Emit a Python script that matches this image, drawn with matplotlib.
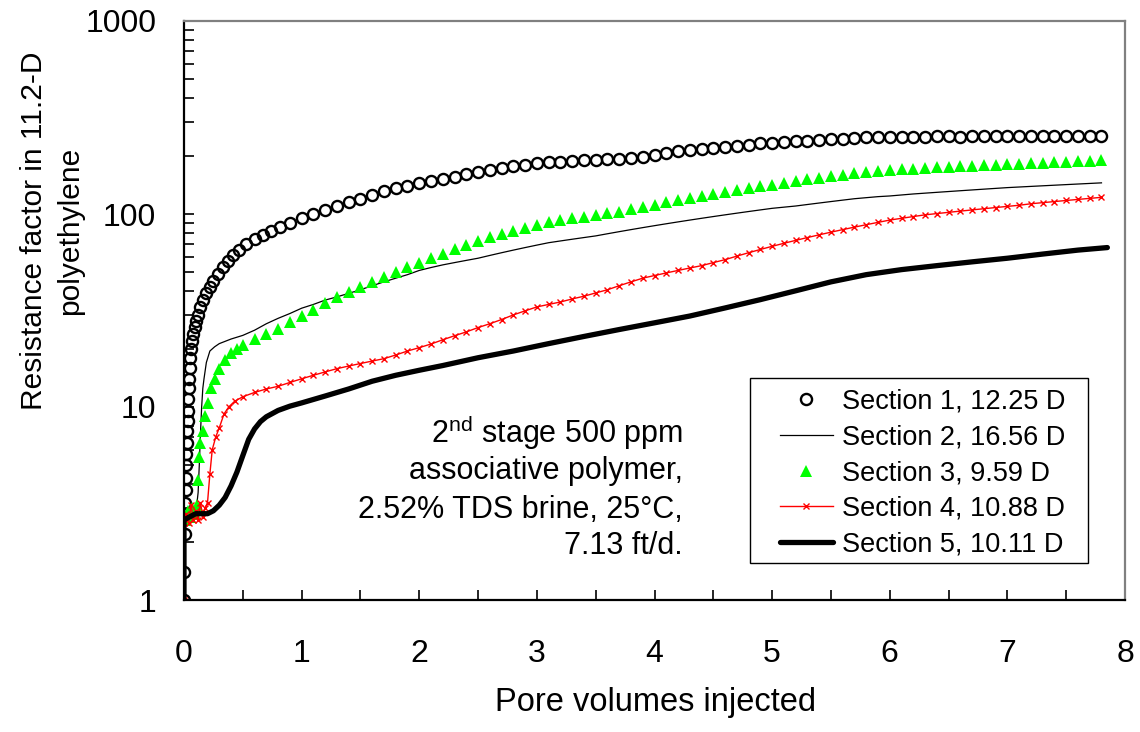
import matplotlib
matplotlib.use("Agg")
import matplotlib.pyplot as plt
from matplotlib.patches import Rectangle
from matplotlib.ticker import FixedLocator, LogLocator, NullFormatter

plt.rcParams['font.family'] = ['Liberation Sans', 'DejaVu Sans']
plt.rcParams['mathtext.fontset'] = 'custom'
plt.rcParams['mathtext.rm'] = 'Liberation Sans'

# ---------------- data ----------------
s1_x = [0, 0, 0.005, 0.01, 0.01, 0.015, 0.015, 0.02, 0.02, 0.025, 0.025, 0.03, 0.03, 0.035, 0.04,
        0.045, 0.05, 0.055, 0.06, 0.07, 0.08, 0.09, 0.1, 0.12, 0.14, 0.16, 0.19, 0.22, 0.25, 0.29,
        0.33, 0.37, 0.42, 0.47, 0.53, 0.6, 0.67, 0.74, 0.82, 0.9, 1.0, 1.1, 1.2, 1.3, 1.4, 1.5, 1.6,
        1.7, 1.8, 1.9, 2.0, 2.1, 2.2, 2.3, 2.4, 2.5, 2.6, 2.7, 2.8, 2.9, 3.0, 3.1, 3.2, 3.3, 3.4, 3.5,
        3.6, 3.7, 3.8, 3.9, 4.0, 4.1, 4.2, 4.3, 4.4, 4.5, 4.6, 4.7, 4.8, 4.9, 5.0, 5.1, 5.2, 5.3, 5.4,
        5.5, 5.6, 5.7, 5.8, 5.9, 6.0, 6.1, 6.2, 6.3, 6.4, 6.5, 6.6, 6.7, 6.8, 6.9, 7.0, 7.1, 7.2, 7.3,
        7.4, 7.5, 7.6, 7.7, 7.8]
s1_y = [1.0, 1.4, 2.2, 2.7, 3.2, 3.7, 4.3, 5.0, 5.7, 6.5, 7.5, 8.5, 9.5, 11, 12.5,
        14, 16, 18, 20, 22, 24, 26, 28, 30, 33, 36, 39, 42, 45, 49,
        53, 57, 61, 65, 70, 74, 78, 82, 86, 90, 95, 100, 105, 110, 115, 120, 126,
        131, 136, 140, 144, 148, 152, 156, 161, 166, 170, 174, 177, 180, 183, 185, 187, 189, 190, 191,
        192, 193, 195, 198, 202, 207, 211, 214, 217, 220, 223, 226, 229, 232, 234, 236, 238, 240, 242,
        244, 246, 248, 250, 251, 251, 252, 252, 252, 253, 253, 252, 253, 253, 254, 253, 254, 254, 254,
        254, 253, 254, 254, 254]

s2_x = [0, 0.01, 0.05, 0.1, 0.12, 0.13, 0.14, 0.15, 0.16, 0.17, 0.19, 0.22, 0.26, 0.3, 0.4, 0.5,
        0.6, 0.7, 0.8, 0.9, 1.0, 1.1, 1.2, 1.3, 1.4, 1.5, 1.6, 1.7, 1.8, 1.9, 2.0, 2.1, 2.2, 2.3,
        2.4, 2.5, 2.6, 2.7, 2.8, 2.9, 3.0, 3.1, 3.2, 3.3, 3.4, 3.5, 3.6, 3.7, 3.8, 3.9, 4.0, 4.1,
        4.2, 4.3, 4.4, 4.5, 4.6, 4.7, 4.8, 4.9, 5.0, 5.1, 5.2, 5.3, 5.4, 5.5, 5.6, 5.7, 5.8, 5.9,
        6.0, 6.2, 6.4, 6.6, 6.8, 7.0, 7.2, 7.4, 7.6, 7.8]
s2_y = [1.0, 2.6, 2.7, 2.8, 3.6, 5.0, 7.3, 10, 12.5, 14, 17, 19.5, 20.5, 21.3, 22.5, 23.5,
        25, 27, 28.8, 30.5, 32.5, 34, 35.8, 37.2, 38.8, 40.5, 42.5, 44.5, 46.5, 48.5, 51, 52.8, 54.5, 56,
        57.5, 59, 61, 63, 65, 67, 69, 71, 72.5, 74, 75.5, 77, 79, 81, 83, 85, 87, 89,
        91, 93, 95, 97, 99, 101, 103, 105, 107, 108.5, 110, 112, 114, 116, 118, 120, 121.5, 123,
        124, 127, 129.5, 132, 134.5, 137, 139, 141, 143, 145]

s3_x = [0, 0.01, 0.03, 0.05, 0.07, 0.09, 0.11, 0.12, 0.13, 0.14, 0.16, 0.18, 0.2, 0.23, 0.26, 0.3,
        0.35, 0.4, 0.45, 0.5, 0.6, 0.7, 0.8, 0.9, 1.0, 1.1, 1.2, 1.3, 1.4, 1.5, 1.6, 1.7, 1.8, 1.9,
        2.0, 2.1, 2.2, 2.3, 2.4, 2.5, 2.6, 2.7, 2.8, 2.9, 3.0, 3.1, 3.2, 3.3, 3.4, 3.5, 3.6, 3.7,
        3.8, 3.9, 4.0, 4.1, 4.2, 4.3, 4.4, 4.5, 4.6, 4.7, 4.8, 4.9, 5.0, 5.1, 5.2, 5.3, 5.4, 5.5,
        5.6, 5.7, 5.8, 5.9, 6.0, 6.1, 6.2, 6.3, 6.4, 6.5, 6.6, 6.7, 6.8, 6.9, 7.0, 7.1, 7.2, 7.3,
        7.4, 7.5, 7.6, 7.7, 7.8]
s3_y = [1.0, 2.6, 2.9, 2.7, 3.0, 2.8, 3.1, 4.2, 5.5, 6.5, 7.5, 9, 10.5, 12.5, 14, 15.8,
        17.6, 19, 20, 21, 22.5, 24, 25.5, 27.5, 29.5, 32, 34.5, 37, 39.5, 42, 44.5, 47, 50, 53,
        56, 59, 62, 65.5, 69, 72.5, 76, 79, 82, 85, 88, 90.5, 93, 95, 97, 99, 101, 103,
        106, 109, 112, 115, 118, 121, 124, 127, 130, 133, 136, 139, 142, 145, 148, 151, 154, 157,
        160, 163, 165, 167, 169, 170.5, 172, 173, 174.5, 175.5, 177, 178, 179, 180, 181, 182, 183, 184.5,
        185.5, 186.5, 187.5, 188.5, 190]

s4_x = [0, 0.0, 0.02, 0.04, 0.06, 0.08, 0.1, 0.12, 0.14, 0.16, 0.18, 0.2, 0.22, 0.24, 0.27, 0.3,
        0.34, 0.38, 0.43, 0.5, 0.6, 0.7, 0.8, 0.9, 1.0, 1.1, 1.2, 1.3, 1.4, 1.5, 1.6, 1.7, 1.8, 1.9,
        2.0, 2.1, 2.2, 2.3, 2.4, 2.5, 2.6, 2.7, 2.8, 2.9, 3.0, 3.1, 3.2, 3.3, 3.4, 3.5, 3.6, 3.7,
        3.8, 3.9, 4.0, 4.1, 4.2, 4.3, 4.4, 4.5, 4.6, 4.7, 4.8, 4.9, 5.0, 5.1, 5.2, 5.3, 5.4, 5.5,
        5.6, 5.7, 5.8, 5.9, 6.0, 6.1, 6.2, 6.3, 6.4, 6.5, 6.6, 6.7, 6.8, 6.9, 7.0, 7.1, 7.2, 7.3,
        7.4, 7.5, 7.6, 7.7, 7.8]
s4_y = [1.0, 2.5, 2.8, 2.5, 3.1, 2.6, 2.9, 2.6, 3.2, 2.7, 3.0, 3.2, 4.5, 6.0, 7.0, 7.8,
        9.2, 10, 10.7, 11.3, 11.9, 12.4, 12.8, 13.4, 14.0, 14.6, 15.2, 15.8, 16.3, 16.8, 17.3, 17.8, 18.6, 19.5,
        20.3, 21.2, 22.3, 23.4, 24.5, 25.8, 27, 28.4, 30, 31.5, 33, 34, 35, 36.3, 37.5, 39, 40.5, 42.5,
        44.5, 46.5, 48, 49.5, 51, 52.5, 54, 56, 58, 60.5, 63, 65.5, 68, 70.5, 73, 75.5, 78, 80.5,
        83, 85.5, 88, 90.5, 93, 95, 97, 99, 100.5, 102, 103.5, 105, 106.5, 108, 109.5, 111, 113, 114.5,
        116, 117.5, 119, 120.5, 122]

s5_x = [0, 0.0, 0.05, 0.1, 0.15, 0.2, 0.25, 0.3, 0.35, 0.4, 0.45, 0.5, 0.55, 0.6, 0.65, 0.7, 0.8,
        0.9, 1.0, 1.2, 1.4, 1.6, 1.8, 2.0, 2.2, 2.5, 2.8, 3.1, 3.4, 3.7, 4.0, 4.3, 4.6, 4.9, 5.2,
        5.5, 5.8, 6.1, 6.4, 6.7, 7.0, 7.3, 7.6, 7.85]
s5_y = [1.0, 2.6, 2.7, 2.8, 2.8, 2.8, 2.9, 3.1, 3.4, 3.9, 4.6, 5.6, 6.8, 7.7, 8.4, 8.9, 9.6,
        10.1, 10.5, 11.4, 12.4, 13.6, 14.6, 15.5, 16.4, 18, 19.5, 21.3, 23.2, 25.2, 27.3, 29.6, 32.6, 36, 40,
        44.5, 48.5, 51.5, 54, 56.5, 59, 62, 65, 67]

labels = ["Section 1, 12.25 D", "Section 2, 16.56 D", "Section 3, 9.59 D",
          "Section 4, 10.88 D", "Section 5, 10.11 D"]
note_lines = [r"2$^{\mathrm{nd}}$ stage 500 ppm", "associative polymer,",
              "2.52% TDS brine, 25°C,", "7.13 ft/d."]
x_ticks = [0, 1, 2, 3, 4, 5, 6, 7, 8]
y_ticks = [1, 10, 100, 1000]

# ---------------- figure ----------------
fig = plt.figure(figsize=(11.4, 7.32), dpi=100)
ax = fig.add_axes([184 / 1140, 1 - 600 / 732, 941 / 1140, 579 / 732])

h1, = ax.plot(s1_x, s1_y, ls='none', marker='o', mfc='none', mec='black', ms=8, mew=1.7)
h2, = ax.plot(s2_x, s2_y, color='black', lw=0.9)
h3, = ax.plot(s3_x, s3_y, ls='none', marker='^', color='#00ff00', ms=8.5, mew=0)
h4, = ax.plot(s4_x, s4_y, color='red', lw=1.0, marker='x', ms=5, mew=1.0)
h5, = ax.plot(s5_x, s5_y, color='black', lw=3.8, solid_capstyle='round')

ax.set_yscale('log')
ax.set_xlim(0, 8)
ax.set_ylim(1, 1000)
ax.xaxis.set_major_locator(FixedLocator(x_ticks))
ax.xaxis.set_minor_locator(FixedLocator([0.5, 1.5, 2.5, 3.5, 4.5, 5.5, 6.5, 7.5]))
ax.yaxis.set_major_locator(FixedLocator(y_ticks))
ax.yaxis.set_minor_locator(LogLocator(base=10, subs=range(2, 10)))
ax.yaxis.set_minor_formatter(NullFormatter())
ax.set_xticklabels([str(t) for t in x_ticks])
ax.set_yticklabels([str(t) for t in y_ticks])

ax.tick_params(axis='both', which='both', direction='in', length=7, width=1.2,
               top=False, right=False, labelsize=23, color='black')
ax.tick_params(axis='x', which='major', pad=28)
ax.tick_params(axis='y', which='major', pad=20)

for side in ['left', 'bottom']:
    ax.spines[side].set_color('black')
    ax.spines[side].set_linewidth(1.6)
for side in ['top', 'right']:
    ax.spines[side].set_color('#808080')
    ax.spines[side].set_linewidth(1.6)

fig.text(656 / 1140, 1 - 703 / 732, "Pore volumes injected", ha='center', va='center', fontsize=23.5)
fig.text(52 / 1140, 1 - 231 / 732, "Resistance factor in 11.2-D\npolyethylene", rotation=90,
         ha='center', va='center', multialignment='center', fontsize=21.5, linespacing=1.4)

baselines = [0.2712, 0.2090, 0.1416, 0.0795]
for txt, yb in zip(note_lines, baselines):
    ax.text(0.5303, yb, txt, transform=ax.transAxes, ha='right', va='baseline', fontsize=22)

ax.add_patch(Rectangle((0.6015, 0.0639), 0.3592, 0.3195, transform=ax.transAxes,
                       fill=True, facecolor='white', edgecolor='black', lw=1.0, zorder=4))
leg = ax.legend([h1, h2, h3, h4, h5], labels, loc='upper left',
                bbox_to_anchor=(0.6334, 0.3650), frameon=False, fontsize=19.5,
                borderpad=0, borderaxespad=0, handlelength=1.95, handletextpad=0.35,
                labelspacing=0.36)
leg.set_zorder(5)

fig.savefig("out.png", dpi=100)
